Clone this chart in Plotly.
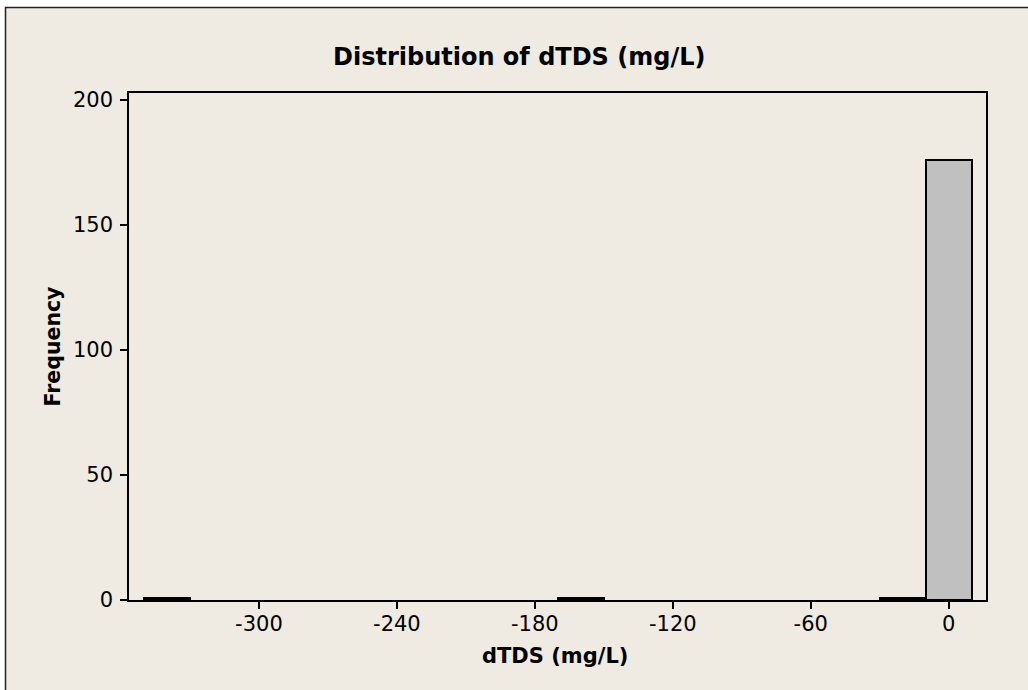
import plotly.graph_objects as go

# Histogram of dTDS (mg/L): bin centres (bin width 20) and counts
bin_centers = [-340, -160, -20, 0]
counts = [1, 1, 1, 176]
bin_width = 20

x_ticks = [-300, -240, -180, -120, -60, 0]
y_ticks = [0, 50, 100, 150, 200]

title_text = "Distribution of dTDS (mg/L)"
x_title = "dTDS (mg/L)"
y_title = "Frequency"

W, H = 1028, 690
L, R, T, B = 129, 42, 93, 90
PW, PH = W - L - R, H - T - B

def px_x(px):
    return (px - L) / PW

def px_y(py):
    return (H - B - py) / PH

BEIGE = "#EFEBE2"
FONT = "DejaVu Sans"

fig = go.Figure(
    go.Bar(
        x=bin_centers,
        y=counts,
        width=bin_width,
        marker=dict(color="#C0C0C0", line=dict(color="black", width=2)),
        hoverinfo="x+y",
    )
)

axis_common = dict(
    showline=True,
    linecolor="black",
    linewidth=1.5,
    mirror=True,
    ticks="outside",
    ticklen=7,
    tickwidth=1.5,
    tickcolor="black",
    showgrid=False,
    zeroline=False,
    tickfont=dict(family=FONT, size=21, color="black"),
)

fig.update_layout(
    width=W,
    height=H,
    margin=dict(l=L, r=R, t=T, b=B),
    paper_bgcolor="white",
    plot_bgcolor="white",
    showlegend=False,
    bargap=0,
    xaxis=dict(range=[-356.5, 16.2], tickvals=x_ticks,
               ticktext=[str(v) for v in x_ticks], ticklabelstandoff=-3,
               **axis_common),
    yaxis=dict(range=[0, 202.8], tickvals=y_ticks,
               ticktext=[str(v) for v in y_ticks], ticklabelstandoff=3,
               **axis_common),
    shapes=[
        # framed beige panel behind the chart
        dict(
            type="rect", xref="paper", yref="paper", layer="below",
            x0=px_x(5.5), x1=px_x(W + 10), y0=px_y(H + 10), y1=px_y(7.5),
            fillcolor=BEIGE, line=dict(color="#222222", width=1.5),
        ),
    ],
    annotations=[
        dict(text=f"<b>{title_text}</b>", xref="paper", yref="paper",
             x=px_x(518.5), y=px_y(57), xanchor="center", yanchor="middle",
             showarrow=False, font=dict(family=FONT, size=24, color="black")),
        dict(text=f"<b>{x_title}</b>", xref="paper", yref="paper",
             x=px_x(555), y=px_y(656), xanchor="center", yanchor="middle",
             showarrow=False, font=dict(family=FONT, size=21, color="black")),
        dict(text=f"<b>{y_title}</b>", xref="paper", yref="paper",
             x=px_x(52), y=px_y(346.5), xanchor="center", yanchor="middle",
             textangle=-90,
             showarrow=False, font=dict(family=FONT, size=20.5, color="black")),
    ],
)

fig.write_html("out.html")
